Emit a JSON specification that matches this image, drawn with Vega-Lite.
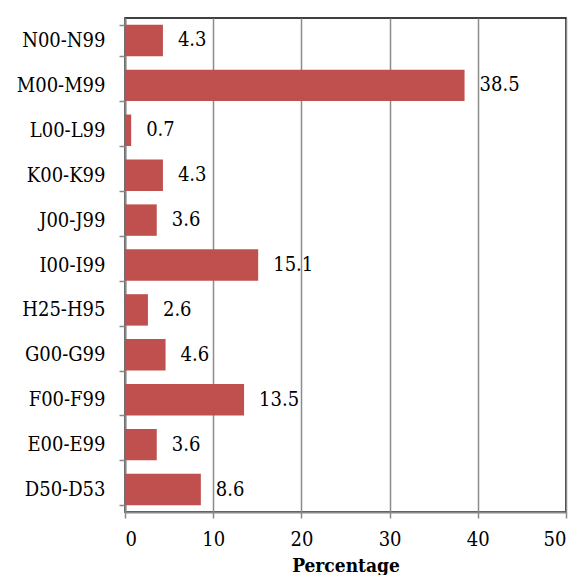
{
  "$schema": "https://vega.github.io/schema/vega-lite/v6.json",
  "autosize": "none",
  "width": 441,
  "height": 494,
  "padding": {"left": 125, "top": 18, "right": 11, "bottom": 63},
  "background": "white",
  "config": {
    "font": "'DejaVu Serif Condensed', 'DejaVu Serif', serif",
    "view": {"stroke": "#000000", "strokeWidth": 1.5},
    "axis": {"labelFont": "'DejaVu Serif Condensed', 'DejaVu Serif', serif", "titleFont": "'DejaVu Serif Condensed', 'DejaVu Serif', serif", "labelColor": "#000", "titleColor": "#000", "labelFontSize": 20, "titleFontSize": 19}
  },
  "data": {
    "values": [
      {"code": "N00-N99", "pct": 4.3},
      {"code": "M00-M99", "pct": 38.5},
      {"code": "L00-L99", "pct": 0.7},
      {"code": "K00-K99", "pct": 4.3},
      {"code": "J00-J99", "pct": 3.6},
      {"code": "I00-I99", "pct": 15.1},
      {"code": "H25-H95", "pct": 2.6},
      {"code": "G00-G99", "pct": 4.6},
      {"code": "F00-F99", "pct": 13.5},
      {"code": "E00-E99", "pct": 3.6},
      {"code": "D50-D53", "pct": 8.6}
    ]
  },
  "encoding": {
    "y": {
      "field": "code", "type": "nominal", "sort": null,
      "scale": {"paddingInner": 0.3, "paddingOuter": 0.15},
      "axis": {"title": null, "tickBand": "extent", "grid": false, "domainColor": "#888", "domainWidth": 2, "tickColor": "#888", "tickWidth": 1.5, "tickSize": 6, "labelPadding": 14}
    },
    "x": {
      "field": "pct", "type": "quantitative",
      "scale": {"domain": [0, 50], "nice": false},
      "axis": {"title": "Percentage", "titleFontWeight": "bold", "titleFontSize": 19, "values": [0, 10, 20, 30, 40, 50], "grid": true, "gridColor": "#8c8c8c", "gridWidth": 1.5, "domainColor": "#888", "domainWidth": 2, "tickColor": "#888", "tickWidth": 1.5, "tickSize": 6, "labelPadding": 11, "titlePadding": 7}
    }
  },
  "layer": [
    {"mark": {"type": "bar", "color": "#C0504D"}},
    {"mark": {"type": "text", "align": "left", "dx": 15, "fontSize": 20, "color": "#000", "font": "'DejaVu Serif Condensed', 'DejaVu Serif', serif"}, "encoding": {"text": {"field": "pct", "type": "quantitative", "format": ".1f"}}}
  ]
}
